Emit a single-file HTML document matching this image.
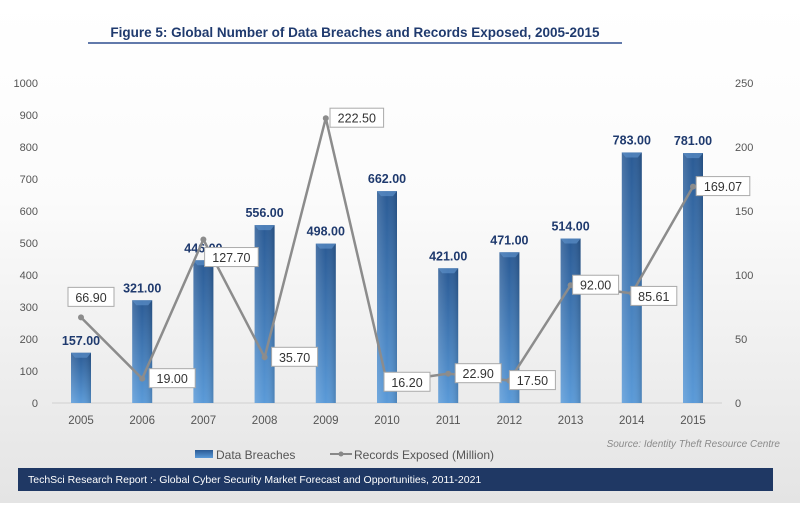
<!DOCTYPE html>
<html><head><meta charset="utf-8">
<style>
body{margin:0;width:800px;height:503px;overflow:hidden;font-family:"Liberation Sans",sans-serif;}
#wrap{position:relative;width:800px;height:503px;background:linear-gradient(#ffffff 0%,#fbfbfb 40%,#e4e4e4 100%);}
</style></head>
<body>
<div id="wrap">
<svg id="chart" width="800" height="503">
<defs>
<linearGradient id="barg" x1="0" y1="0" x2="0" y2="1"><stop offset="0" stop-color="#2a5a94"/><stop offset="1" stop-color="#5a9ad8"/></linearGradient>
<linearGradient id="barh" x1="0" y1="0" x2="1" y2="0"><stop offset="0" stop-color="#ffffff" stop-opacity="0.15"/><stop offset="0.5" stop-color="#ffffff" stop-opacity="0"/><stop offset="1" stop-color="#000000" stop-opacity="0.15"/></linearGradient>
</defs>
<text x="355" y="37" text-anchor="middle" font-size="13.5" font-weight="bold" fill="#1f3a6e">Figure 5: Global Number of Data Breaches and Records Exposed, 2005-2015</text>
<line x1="88" y1="43" x2="622" y2="43" stroke="#2f4f8f" stroke-width="1.5"/>
<g id="axes"></g><g id="bars"></g><g id="line"></g>
<text x="780" y="447" text-anchor="end" font-size="10" font-style="italic" fill="#8a8a8a">Source: Identity Theft Resource Centre</text>
<rect x="195" y="450" width="18" height="8" fill="url(#barg)"/>
<text x="216" y="459" font-size="12" fill="#555">Data Breaches</text>
<line x1="330" y1="454" x2="352" y2="454" stroke="#888" stroke-width="2"/>
<circle cx="341" cy="454" r="2.5" fill="#888"/>
<text x="354" y="459" font-size="12" fill="#555">Records Exposed (Million)</text>
<rect x="18" y="468" width="755" height="23" fill="#1f3864"/>
<text x="28" y="483" font-size="10.5" fill="#fff">TechSci Research Report :- Global Cyber Security Market Forecast and Opportunities, 2011-2021</text>
</svg>
</div>
<script>
const categories=["2005","2006","2007","2008","2009","2010","2011","2012","2013","2014","2015"];
const breaches=[157,321,446,556,498,662,421,471,514,783,781];
const records=[66.90,19.00,127.70,35.70,222.50,16.20,22.90,17.50,92.00,85.61,169.07];
const leftTicks=[0,100,200,300,400,500,600,700,800,900,1000];
const rightTicks=[0,50,100,150,200,250];
const labelDx=[10,30,28,30,31,20,30,23,25,22,30];
const labelDy=[-20,0,18,0,0,0,0,0,0,3,0];
const NS="http://www.w3.org/2000/svg";
const y0=403,yTop=83,x0=81,step=61.2;
const xS=i=>x0+i*step;
const yL=v=>y0-(v/1000)*(y0-yTop);
const yR=v=>y0-(v/250)*(y0-yTop);
function mk(t,a,p){const e=document.createElementNS(NS,t);for(const k in a)e.setAttribute(k,a[k]);p.appendChild(e);return e;}
const ax=document.getElementById('axes'),bg=document.getElementById('bars'),lg=document.getElementById('line');
const base=mk('line',{x1:52,y1:y0,x2:722,y2:y0,stroke:'#d0d0d0'},ax);


leftTicks.forEach(v=>{const t=mk('text',{x:38,y:yL(v)+4,'text-anchor':'end','font-size':11,fill:'#555'},ax);t.textContent=v;

});
rightTicks.forEach(v=>{const t=mk('text',{x:735,y:yR(v)+4,'font-size':11,fill:'#555'},ax);t.textContent=v;

});
categories.forEach((c,i)=>{const t=mk('text',{x:xS(i),y:424,'text-anchor':'middle','font-size':11.5,fill:'#555'},ax);t.textContent=c;

});
breaches.forEach((v,i)=>{const x=xS(i)-10,y=yL(v);
const r=mk('rect',{x:x,y:y,width:20,height:y0-y,fill:'url(#barg)'},bg);


mk('rect',{x:x,y:y,width:20,height:y0-y,fill:'url(#barh)'},bg);
mk('polygon',{points:`${x},${y} ${x+20},${y} ${x+16},${y+5} ${x+4},${y+5}`,fill:'#5b8ec8',opacity:0.7},bg);
const t=mk('text',{x:xS(i),y:y-8,'text-anchor':'middle','font-size':12.5,'font-weight':'bold',fill:'#1f3a6e'},bg);t.textContent=v.toFixed(2);

});
const pl=mk('polyline',{points:records.map((v,i)=>xS(i)+','+yR(v)).join(' '),fill:'none',stroke:'#8c8c8c','stroke-width':2.5},lg);


records.forEach((v,i)=>{const cx=xS(i),cy=yR(v);
const c=mk('circle',{cx:cx,cy:cy,r:3,fill:'#8c8c8c'},lg);


const bx=cx+labelDx[i],by=cy+labelDy[i],s=v.toFixed(2),w=s.length*7.6+8;
const r=mk('rect',{x:bx-w/2,y:by-10,width:w,height:19,fill:'#fff',stroke:'#aaa'},lg);


const t=mk('text',{x:bx,y:by+4.5,'text-anchor':'middle','font-size':12.5,fill:'#333'},lg);t.textContent=s;

});
</script>
</body></html>
